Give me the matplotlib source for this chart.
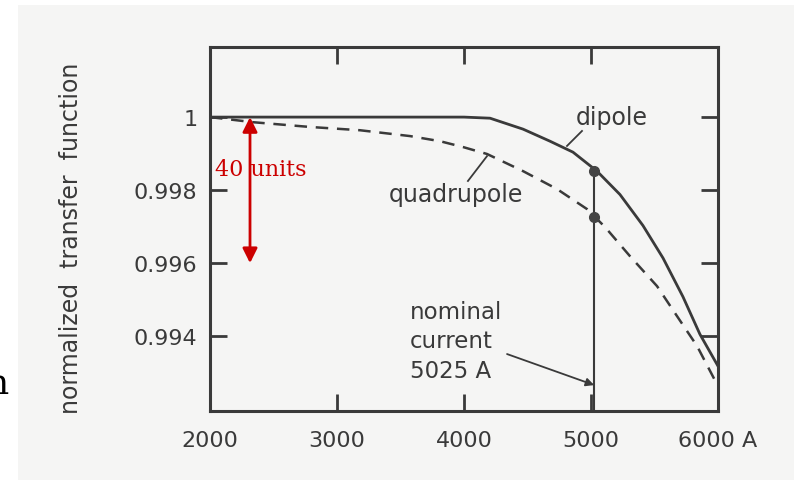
import numpy as np
import matplotlib
matplotlib.use("Agg")
import matplotlib.pyplot as plt
from matplotlib.patches import Rectangle

# values
dipole_current = [2000, 3000, 4000, 4205, 4465, 4677, 4858, 5047, 5228, 5409,
                  5567, 5724, 5858, 6000]
dipole_tf = [1.0, 1.0, 1.0, 0.99997, 0.99967, 0.99934, 0.99904, 0.99852, 0.99788, 0.99703,
             0.99614, 0.99508, 0.99405, 0.99318]

quad_current = [2000, 2339, 2787, 3181, 3575, 3811, 3992, 4181, 4465, 4732, 4969,
                5110, 5307, 5520, 5677, 5835, 6000]
quad_tf = [1.0, 0.99986, 0.99973, 0.99964, 0.99948, 0.99934, 0.99918, 0.99899, 0.99852,
           0.99803, 0.99748, 0.99699, 0.99619, 0.99537, 0.99455, 0.99373, 0.99263]

nominal_current = 5025
nominal_dipole = 0.99852
nominal_quad = 0.99726

xticks = [2000, 3000, 4000, 5000, 6000]
xtick_labels = ["2000", "3000", "4000", "5000", "6000 A"]
yticks = [0.994, 0.996, 0.998, 1.0]
ytick_labels = ["0.994", "0.996", "0.998", "1"]

ink = "#3a3a3a"
red = "#cc0000"

fig = plt.figure(figsize=(7.94, 4.81), dpi=100)
fig.patch.set_facecolor("white")
# scanned paper area
fig.add_artist(Rectangle((18 / 794, 0), 1 - 18 / 794, 1 - 6 / 481,
                         transform=fig.transFigure, facecolor="#f5f5f4",
                         edgecolor="none", zorder=0))

ax = fig.add_axes([210 / 794, 1 - 412 / 481, 508 / 794, 364 / 481])
ax.set_facecolor("none")

ax.plot(dipole_current, dipole_tf, color=ink, lw=2.0, solid_joinstyle="round")
ax.plot(quad_current, quad_tf, color=ink, lw=1.8, dashes=(5, 3.5))

# nominal current marker
ax.plot([nominal_current, nominal_current], [0.99195, nominal_dipole], color=ink, lw=1.5)
ax.plot([nominal_current, nominal_current], [nominal_dipole, nominal_quad], "o",
        color="#444444", ms=7)

ax.set_xlim(2000, 6000)
ax.set_ylim(0.99195, 1.00192)

ax.set_xticks(xticks)
ax.set_xticklabels(xtick_labels)
ax.set_yticks(yticks)
ax.set_yticklabels(ytick_labels)
ax.tick_params(direction="in", length=12, width=2, color=ink, labelcolor=ink,
               labelsize=16, top=True, right=True, pad=9)
ax.tick_params(axis="x", pad=14)
for s in ax.spines.values():
    s.set_linewidth(2.2)
    s.set_color(ink)

ax.set_ylabel("normalized  transfer  function", fontsize=17, color=ink)
ax.yaxis.set_label_coords(-0.25, 0.478)

# curve labels
ax.text(5165, 1.0, "dipole", fontsize=17, color=ink, ha="center", va="center")
ax.plot([4811, 4929], [0.99921, 0.99962], color=ink, lw=1.3)
ax.text(3937, 0.99789, "quadrupole", fontsize=17, color=ink, ha="center", va="center")
ax.plot([4181, 4031], [0.99893, 0.99825], color=ink, lw=1.3)

ax.text(3575, 0.99500, "nominal\ncurrent\n5025 A", fontsize=16.5, color=ink,
        ha="left", va="top", linespacing=1.38)
ax.annotate("", xy=(nominal_current, 0.99266), xytext=(4339, 0.99351),
            arrowprops=dict(arrowstyle="-|>", color=ink, lw=1.3, mutation_scale=12,
                            shrinkA=0, shrinkB=0))

# red annotation
ax.annotate("", xy=(2315, 1.0), xytext=(2315, 0.996),
            arrowprops=dict(arrowstyle="<|-|>", color=red, lw=2, mutation_scale=22,
                            shrinkA=0, shrinkB=0))
ax.text(2039, 0.99858, "40 units", fontsize=16, color=red, family="DejaVu Serif",
        ha="left", va="center")

# cropped slide letter on the far left
fig.text(9 / 794, 1 - 384 / 481, "n", fontsize=26, color="black",
         family="DejaVu Serif", ha="right", va="center")

fig.savefig("out.png", dpi=100)
